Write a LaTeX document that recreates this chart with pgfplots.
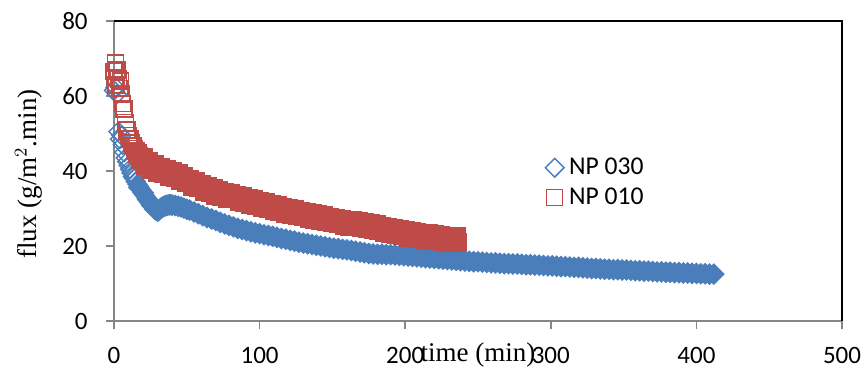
\documentclass[border=0pt]{standalone}
\usepackage{pgfplots}
\pgfplotsset{compat=1.18}
\usepackage{fontspec}
\setmainfont{Liberation Serif}
\newfontfamily\calibri{Carlito}
\definecolor{npblue}{HTML}{4A7EBB}
\definecolor{npred}{HTML}{BE4B48}
\definecolor{axgray}{HTML}{868686}
\begin{document}
\begin{tikzpicture}
\useasboundingbox (0,0) rectangle (433pt,185.5pt);
\begin{axis}[
  at={(57pt,25pt)}, anchor=south west,
  width=364pt, height=150pt, scale only axis,
  xmin=0, xmax=500, ymin=0, ymax=80,
  xtick={0,100,200,300,400,500}, ytick={0,20,40,60,80},
  axis lines=left,
  axis line style={axgray, line width=0.75pt, -},
  tick style={axgray, line width=0.75pt},
  tick align=outside, major tick length=4pt,
  clip=false,
  /pgf/number format/assume math mode=true,
  ticklabel style={font=\calibri\fontsize{12.5}{14}\selectfont, text=black},
  xticklabel style={anchor=base, yshift=-17pt, inner sep=0pt},
  yticklabel style={anchor=east, xshift=-9pt, inner sep=0pt},
  xlabel={time (min)},
  ylabel={flux (g/m$^{2}$.min)},
  label style={font=\fontsize{13.5}{15}\selectfont},
  xlabel style={at={(axis description cs:0.5,-0.135)}, anchor=base},
  ylabel style={at={(axis description cs:-0.1058,0.49)}, anchor=base, rotate=0},
  legend style={at={(rel axis cs:0.592,0.461)}, anchor=west, draw=none, fill=none,
    inner sep=0pt, row sep=2.2pt, font=\calibri\fontsize{12.8}{14}\selectfont,
    nodes={inner sep=1.5pt}, /tikz/every odd column/.append style={column sep=1pt}},
  legend cell align=left,
  legend image code/.code={\draw[#1] plot coordinates {(0.2cm,0cm)};},
]
% NP 030 -- early, sparse points (hollow diamonds)
\addplot[only marks, mark=square, mark size=3.3pt, mark options={rotate=45, draw=npblue, line width=0.75pt}]
coordinates {
(0,61.5)(1,62.3)(2,60.5)(3,50.5)(4,48.5)(5,49.5)(6,47)(7,45)(8,43.5)(9,42.5)
(10,41.5)(11,40.5)(12,39.5)(13,38.5)(14,38)(15,37.2)(16,36.5)(17,36)(18,35.3)(19,34.8)
(20,34.2)(21,33.6)(22,33)(23,32.4)(24,31.8)(25,31.3)(26,30.8)(27,30.3)(28,29.8)(29,29.4)
(30,29.3)
};
\addlegendentry{NP 030}
% NP 030 -- dense part (markers overlap into a solid band)
\addplot[forget plot, only marks, mark=square*, mark size=3.5pt, mark options={rotate=45, draw=npblue, fill=npblue, line width=0.75pt}]
coordinates {
(17,35.6)(20,34.2)(23,32.4)(26,30.8)(28,29.8)(30,29.3)(31,29.6)(32,30)(33,30.3)(34,30.5)(35,30.7)(36,30.8)(37,30.9)(38,31)(39,31)
(40,30.9)(42,30.8)(44,30.6)(46,30.4)(48,30.1)(50,29.8)(52,29.6)(55,29.1)(58,28.6)(61,28.1)(64,27.6)(67,27.2)
(70,26.8)(73,26.3)(76,25.9)(79,25.5)(82,25.1)(85,24.7)(88,24.4)(91,24.1)(94,23.8)(97,23.5)
(100,23.3)(103,23.0)(106,22.8)(109,22.6)(112,22.3)(115,22.0)(118,21.8)(121,21.5)(124,21.3)(127,21.0)
(130,20.8)(133,20.6)(136,20.4)(139,20.2)(142,20.0)(145,19.8)(148,19.6)(151,19.4)(154,19.3)(157,19.1)
(160,19.0)(163,18.8)(166,18.6)(169,18.4)(172,18.2)(175,18.0)(178,17.9)(181,17.8)(184,17.8)(187,17.7)
(190,17.7)(193,17.6)(196,17.5)(199,17.4)(202,17.3)(205,17.2)(208,17.1)(211,17.0)(214,16.9)(217,16.8)
(220,16.7)(223,16.6)(226,16.5)(229,16.4)(232,16.3)(235,16.2)(238,16.1)(241,16.0)(244,15.9)(247,15.8)
(250,15.8)(253,15.7)(256,15.6)(259,15.5)(262,15.5)(265,15.4)(268,15.3)(271,15.3)(274,15.2)(277,15.2)
(280,15.1)(283,15.0)(286,15.0)(289,14.9)(292,14.9)(295,14.8)(298,14.7)(301,14.7)(304,14.6)(307,14.5)
(310,14.5)(313,14.4)(316,14.3)(319,14.3)(322,14.2)(325,14.1)(328,14.0)(331,14.0)(334,13.9)(337,13.8)
(340,13.8)(343,13.7)(346,13.7)(349,13.6)(352,13.6)(355,13.5)(358,13.4)(361,13.4)(364,13.3)(367,13.3)
(370,13.2)(373,13.1)(376,13.1)(379,13.0)(382,13.0)(385,12.9)(388,12.9)(391,12.8)(394,12.8)(397,12.7)
(400,12.7)(403,12.6)(406,12.6)(409,12.5)(412,12.5)
};
% NP 010 -- early, sparse points (hollow squares)
\addplot[only marks, mark=square, mark size=4pt, mark options={draw=npred, line width=0.75pt}]
coordinates {
(0,66.5)(0.5,65)(1,68.8)(1.5,63)(2,67)(3,64.5)(4,62)(4.5,64)(5,60.5)(6,58)
(7,56.5)(8,53)(9,51)(10,49.5)(11,48.5)(12,47.5)(13,46.8)(14,46)(15,45.3)(16,44.8)
(17,44.2)(18,43.7)
};
\addlegendentry{NP 010}
% NP 010 -- dense part
\addplot[forget plot, only marks, mark=square*, mark size=4.4pt, mark options={draw=npred, fill=npred, line width=0.75pt}]
coordinates {
(16,44.6)(18,43.2)(20,43.7)(22,41.5)(24,42.6)(26,40.5)(28,41.6)(30,39.6)(32,40.9)(34,39.4)
(36,40.3)(38,38.6)(40,39.9)(42,38.3)(44,39.2)(46,37.4)(48,38.6)(50,37.0)(52,37.8)(54,36.0)
(56,37.1)(58,35.6)(60,36.4)(62,34.6)(64,35.9)(66,34.3)(68,35.2)(70,33.6)(72,34.9)(74,33.3)
(76,34.2)(78,32.8)(80,33.9)(82,32.6)(84,33.5)(86,32.0)(88,33.2)(90,31.7)(92,32.7)(94,31.2)
(96,32.4)(98,30.9)(100,31.9)(102,30.4)(104,31.6)(106,30.1)(108,31.1)(110,29.6)(112,30.8)(114,29.3)
(116,30.3)(118,28.8)(120,30.0)(122,28.5)(124,29.6)(126,28.1)(128,29.3)(130,27.8)(132,28.9)(134,27.4)
(136,28.7)(138,27.1)(140,28.3)(142,26.8)(144,28.1)(146,26.5)(148,27.7)(150,26.2)(152,27.4)(154,25.9)
(156,27.1)(158,25.5)(160,26.9)(162,25.3)(164,26.7)(166,25.1)(168,26.5)(170,24.9)(172,26.2)(174,24.7)
(176,26.0)(178,24.4)(180,25.7)(182,24.1)(184,25.3)(186,23.7)(188,24.9)(190,23.3)(192,24.6)(194,23.0)
(196,24.3)(198,22.7)(200,24.0)(202,22.4)(204,23.8)(206,22.2)(208,23.6)(210,22.0)(212,23.4)(214,21.8)
(216,23.2)(218,21.6)(220,23.0)(222,21.4)(224,22.8)(226,21.2)(228,22.6)(230,21.0)(232,22.5)(234,20.9)
(235,22.4)(236,21.0)
};
\draw[black, line width=0.8pt] (rel axis cs:0,1) -- (rel axis cs:1,1) -- (rel axis cs:1,0);
\end{axis}
\end{tikzpicture}
\end{document}
